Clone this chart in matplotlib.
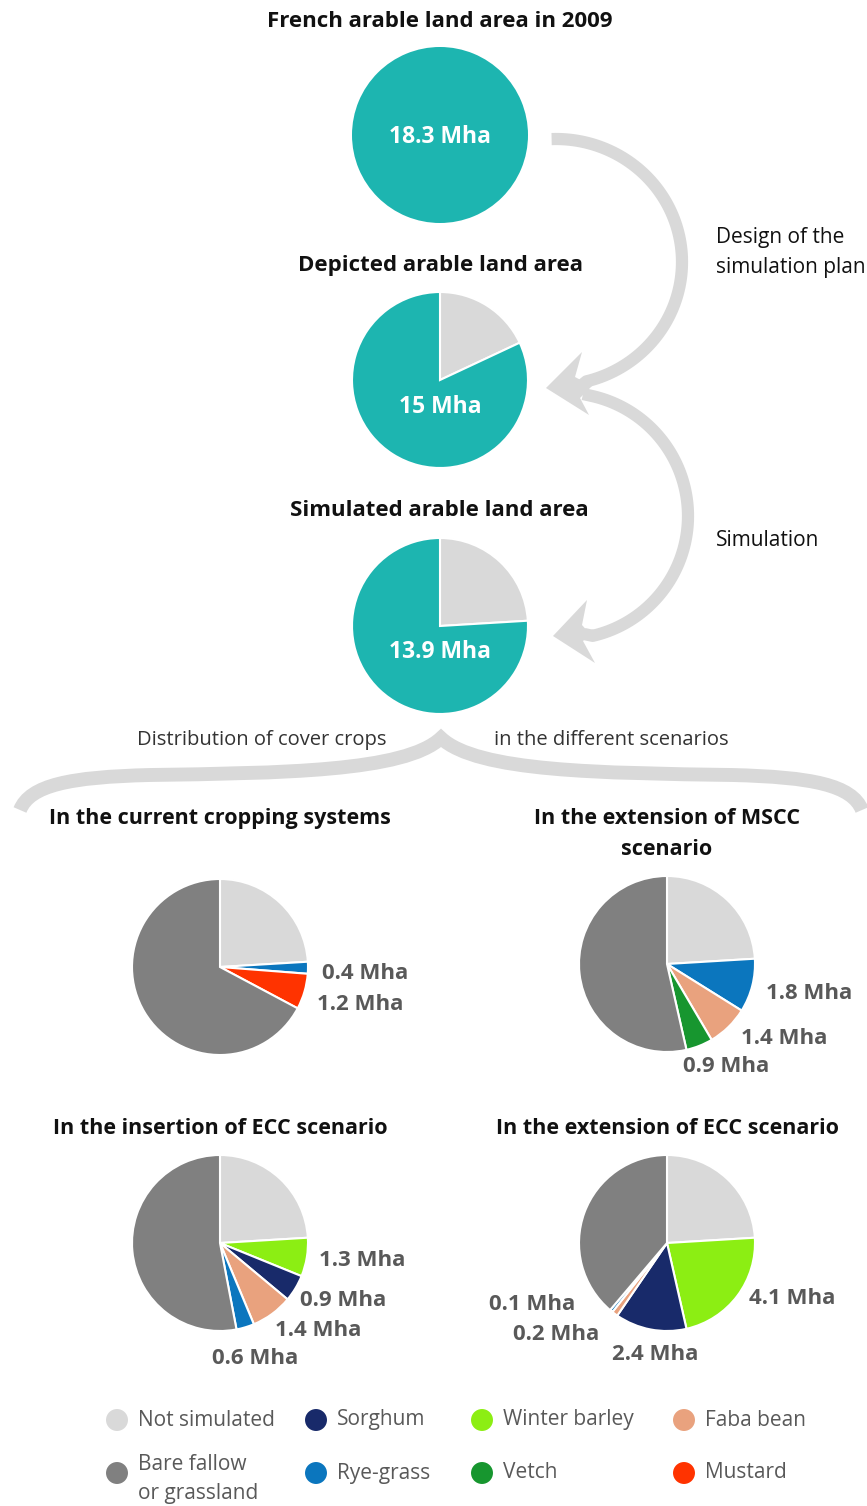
import numpy as np
import matplotlib.pyplot as plt
from matplotlib.path import Path
from matplotlib.patches import PathPatch, Polygon

plt.rcParams['font.family'] = ['Open Sans', 'DejaVu Sans']

W, H = 867, 1506

# areas in Mha
total_area = 18.3
depicted_area = 15.0
simulated_area = 13.9

colors = {
    'Not simulated': '#d9d9d9',
    'Sorghum': '#182a6a',
    'Winter barley': '#8cee13',
    'Faba bean': '#e9a27e',
    'Bare fallow\nor grassland': '#808080',
    'Rye-grass': '#0b76be',
    'Vetch': '#17962f',
    'Mustard': '#ff3300',
}
teal = '#1db5b0'
legend_order = ['Not simulated', 'Sorghum', 'Winter barley', 'Faba bean',
                'Bare fallow\nor grassland', 'Rye-grass', 'Vetch', 'Mustard']

bare = 'Bare fallow\nor grassland'
not_sim = total_area - simulated_area

# scenario pies (clockwise from top), bare fallow is the remainder
current_crops = ['Not simulated', 'Rye-grass', 'Mustard']
current_mha = [not_sim, 0.4, 1.2]
mscc_crops = ['Not simulated', 'Rye-grass', 'Faba bean', 'Vetch']
mscc_mha = [not_sim, 1.8, 1.4, 0.9]
ins_ecc_crops = ['Not simulated', 'Winter barley', 'Sorghum', 'Faba bean', 'Rye-grass']
ins_ecc_mha = [not_sim, 1.3, 0.9, 1.4, 0.6]
ext_ecc_crops = ['Not simulated', 'Winter barley', 'Sorghum', 'Faba bean', 'Rye-grass']
ext_ecc_mha = [not_sim, 4.1, 2.4, 0.2, 0.1]

fig = plt.figure(figsize=(W / 100, H / 100), dpi=100)
ax = fig.add_axes([0, 0, 1, 1])

R = 88
wp = dict(edgecolor='white', linewidth=1.5)


def Y(y):
    return H - y


def draw_pie(cx, cy, crops, vals):
    crops = crops + [bare]
    vals = vals + [total_area - sum(vals)]
    ax.pie(vals, colors=[colors[c] for c in crops], center=(cx, Y(cy)), radius=R,
           startangle=90, counterclock=False, wedgeprops=wp, frame=True)


# top three circles
ax.pie([total_area], colors=[teal], center=(440, Y(135)), radius=R,
       startangle=90, wedgeprops=dict(linewidth=0), frame=True)
ax.pie([total_area - depicted_area, depicted_area], colors=[colors['Not simulated'], teal],
       center=(440, Y(380)), radius=R, startangle=90, counterclock=False,
       wedgeprops=wp, frame=True)
ax.pie([total_area - simulated_area, simulated_area], colors=[colors['Not simulated'], teal],
       center=(440, Y(626)), radius=R, startangle=90, counterclock=False,
       wedgeprops=wp, frame=True)

title_kw = dict(ha='center', va='center', fontsize=16, fontweight='bold', color='#111111')
ax.text(440, Y(21), 'French arable land area in 2009', **title_kw)
ax.text(440, Y(265), 'Depicted arable land area', **title_kw)
ax.text(439, Y(510), 'Simulated arable land area', **title_kw)
in_kw = dict(ha='center', va='center', fontsize=16.5, fontweight='bold', color='white')
ax.text(440, Y(137), f'{total_area} Mha', **in_kw)
ax.text(440, Y(407), f'{depicted_area:.0f} Mha', **in_kw)
ax.text(440, Y(652), f'{simulated_area} Mha', **in_kw)

side_kw = dict(ha='left', va='center', fontsize=15, color='#111111')
ax.text(716, Y(237), 'Design of the', **side_kw)
ax.text(716, Y(267), 'simulation plan', **side_kw)
ax.text(716, Y(540), 'Simulation', **side_kw)

# curved arrows
arrow_col = '#d9d9d9'
lw = 8.8
t = np.radians(np.linspace(92, -76, 100))
ax.plot(np.r_[556 + 126 * np.cos(t), 582], np.r_[Y(262) + 123 * np.sin(t), Y(385)],
        color=arrow_col, lw=lw, solid_capstyle='butt')
t = np.radians(np.linspace(78, -77, 100))
ax.plot(np.r_[583, 565 + 123 * np.cos(t), 584], np.r_[Y(394), Y(516) + 123 * np.sin(t), Y(634)],
        color=arrow_col, lw=lw, solid_capstyle='butt')
ax.add_patch(Polygon([(546, Y(388)), (582, Y(352)), (575, Y(377)), (592, Y(386)),
                      (580, Y(398)), (589, Y(415))],
                     closed=True, color=arrow_col, lw=0))
ax.add_patch(Polygon([(553, Y(636)), (587, Y(600)), (582, Y(625)), (590, Y(634)),
                      (583, Y(641)), (595, Y(663))],
                     closed=True, color=arrow_col, lw=0))

# brace
verts = [(20, Y(810)), (30, Y(785)), (70, Y(777)), (150, Y(775)),
         (280, Y(773)), (405, Y(772)), (441, Y(738)),
         (477, Y(772)), (602, Y(773)), (732, Y(775)),
         (812, Y(777)), (852, Y(785)), (862, Y(810))]
codes = [Path.MOVETO] + [Path.CURVE4] * 12
ax.add_patch(PathPatch(Path(verts, codes), facecolor='none', edgecolor=arrow_col,
                       lw=10, capstyle='butt', joinstyle='miter'))

sub_kw = dict(ha='center', va='center', fontsize=14.5, color='#333333')
ax.text(262, Y(740), 'Distribution of cover crops', **sub_kw)
ax.text(611, Y(740), 'in the different scenarios', **sub_kw)

# scenario pies
draw_pie(220, 967, current_crops, current_mha)
draw_pie(667, 964, mscc_crops, mscc_mha)
draw_pie(220, 1243, ins_ecc_crops, ins_ecc_mha)
draw_pie(667, 1243, ext_ecc_crops, ext_ecc_mha)

sc_kw = dict(ha='center', va='center', fontsize=15.5, fontweight='bold', color='#111111')
ax.text(220, Y(818), 'In the current cropping systems', **sc_kw)
ax.text(667, Y(818), 'In the extension of MSCC', **sc_kw)
ax.text(667, Y(849), 'scenario', **sc_kw)
ax.text(220, Y(1129), 'In the insertion of ECC scenario', **sc_kw)
ax.text(667, Y(1129), 'In the extension of ECC scenario', **sc_kw)

lab_kw = dict(ha='left', va='center', fontsize=16, fontweight='bold', color='#595959')
labels = [
    (322, 973, current_mha[1]), (317, 1005, current_mha[2]),
    (766, 993, mscc_mha[1]), (741, 1038, mscc_mha[2]), (683, 1066, mscc_mha[3]),
    (319, 1261, ins_ecc_mha[1]), (300, 1300, ins_ecc_mha[2]),
    (275, 1331, ins_ecc_mha[3]), (212, 1358, ins_ecc_mha[4]),
    (749, 1299, ext_ecc_mha[1]), (612, 1355, ext_ecc_mha[2]),
    (513, 1334, ext_ecc_mha[3]), (489, 1305, ext_ecc_mha[4]),
]
for x, y, v in labels:
    ax.text(x, Y(y), f'{v} Mha', **lab_kw)

# legend
leg_x = [117, 316, 482, 684]
leg_y = [1420, 1473]
for i, name in enumerate(legend_order):
    x = leg_x[i % 4]
    y = leg_y[i // 4]
    ax.scatter([x], [Y(y)], s=250, color=colors[name], edgecolors='none')
    for j, line in enumerate(name.split('\n')):
        yy = y if '\n' not in name else y - 8 + 29 * j
        ax.text(x + 21, Y(yy), line, ha='left', va='center', fontsize=15, color='#595959')

ax.set_xlim(0, W)
ax.set_ylim(0, H)
ax.set_aspect('auto')
ax.axis('off')

fig.savefig('out.png', dpi=100)
